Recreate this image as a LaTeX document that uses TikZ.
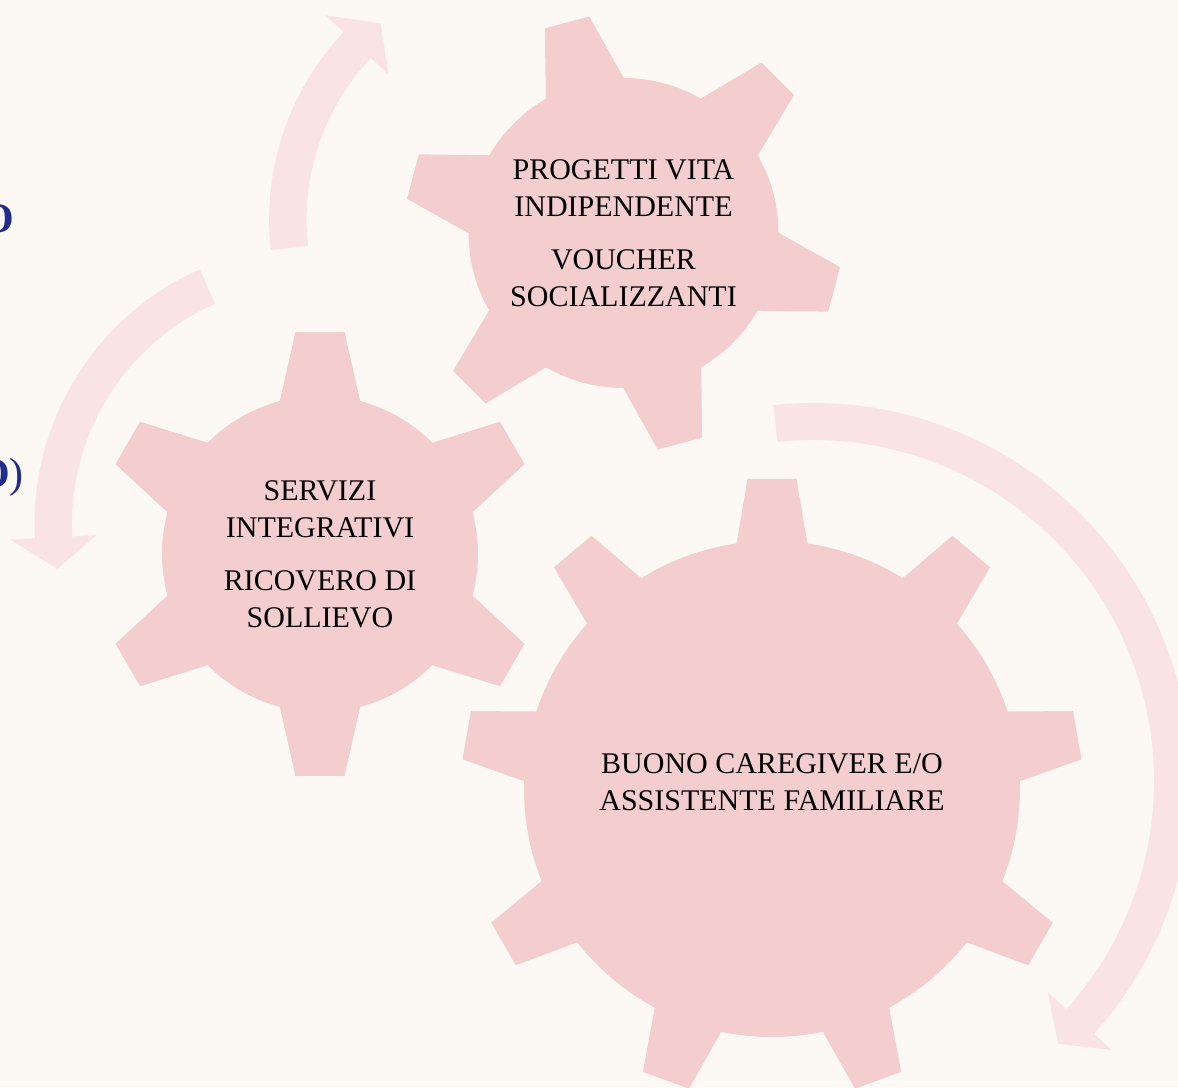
\documentclass[tikz,border=0pt]{standalone}
\usepackage{fontspec}
\setmainfont{Liberation Serif}
\definecolor{cream}{RGB}{252,249,244}
\definecolor{gearpink}{RGB}{244,205,207}
\definecolor{swirlpink}{RGB}{249,227,229}
\definecolor{navy}{RGB}{33,44,142}
\begin{document}
\begin{tikzpicture}[x=1pt, y=1pt,
    gear/.style={fill=gearpink},
    gearbody/.style={circle, fill=gearpink, inner sep=0pt, align=center, font={\fontsize{30}{37}\selectfont}},
    swirl/.style={fill=swirlpink},
    fragment/.style={text=navy, inner sep=0pt, font={\fontsize{42}{50}\selectfont}}]
    \useasboundingbox (0,0) rectangle (1178,1087);
    \clip (0,0) rectangle (1178,1087);
    \fill[cream] (0,0) rectangle (1178,1087);

    \coordinate (ringTop) at (541.6,867.6);
    \coordinate (ringLeft) at (313,563.2);
    \coordinate (ringRight) at (813,306);

    \fill[swirl, shift={(ringTop)}] (186.5:272.5) arc[start angle=186.5, end angle=136.6, radius=272.5]
        -- (136.6:297) -- (129.4:253.75) -- (136.6:210.5) -- (136.6:235)
        arc[start angle=136.6, end angle=186.5, radius=235] -- cycle;
    \fill[swirl, shift={(ringLeft)}] (114:278.5) arc[start angle=114, end angle=183, radius=278.5]
        -- (183:303) -- (190:259.75) -- (183:216.5) -- (183:241)
        arc[start angle=183, end angle=114, radius=241] -- cycle;
    \fill[swirl, shift={(ringRight)}] (96:378) arc[start angle=96, end angle=-42, radius=378]
        -- (-42:402) -- (-47:359.5) -- (-42:316) -- (-42:341)
        arc[start angle=-42, end angle=96, radius=341] -- cycle;

    \node[gearbody, minimum size=310pt] (gearA) at (623.5,854) {PROGETTI VITA\\INDIPENDENTE\\[16pt]VOUCHER\\SOCIALIZZANTI};
    \node[gearbody, minimum size=316pt] (gearB) at (320,533) {SERVIZI\\INTEGRATIVI\\[16pt]RICOVERO DI\\SOLLIEVO};
    \node[gearbody, minimum size=496pt, text depth=13pt] (gearC) at (772,298) {BUONO CAREGIVER E/O\\ASSISTENTE FAMILIARE};

    \foreach \a in {-15,45,...,285}
        \fill[gear, shift={(gearA.center)}, rotate=\a] (140,-42.8) -- (218,-23) -- (218,23) -- (140,42.8) -- cycle;
    \foreach \a in {30,90,...,330}
        \fill[gear, shift={(gearB.center)}, rotate=\a] (143,-42.4) -- (222,-24.5) -- (222,24.5) -- (143,42.4) -- cycle;
    \foreach \a in {10,50,...,330}
        \fill[gear, shift={(gearC.center)}, rotate=\a] (233,-37.5) -- (310,-24.5) -- (310,24.5) -- (233,37.5) -- cycle;

    \node[fragment, anchor=base east] (fragTop) at (14,854) {\textbf{O}};
    \node[fragment, anchor=base east] (fragBottom) at (24,599) {\textbf{O})};
\end{tikzpicture}
\end{document}
